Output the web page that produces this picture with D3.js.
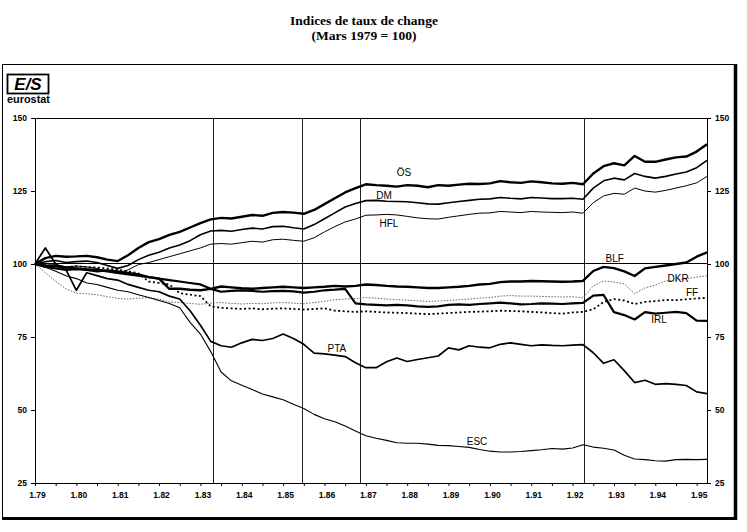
<!DOCTYPE html>
<html>
<head>
<meta charset="utf-8">
<script src="https://cdn.jsdelivr.net/npm/d3@7"></script>
<style>
  body { margin: 0; background: #fff; }
  svg { display: block; }
</style>
</head>
<body>
<svg class="chart" width="747" height="532"></svg>
<script>
// quarterly dates, March 1979 = 100
var dates = [
  1979, 1979.25, 1979.5, 1979.75, 1980, 1980.25, 1980.5, 1980.75,
  1981, 1981.25, 1981.5, 1981.75, 1982, 1982.25, 1982.5, 1982.75,
  1983, 1983.25, 1983.5, 1983.75, 1984, 1984.25, 1984.5, 1984.75,
  1985, 1985.25, 1985.5, 1985.75, 1986, 1986.25, 1986.5, 1986.75,
  1987, 1987.25, 1987.5, 1987.75, 1988, 1988.25, 1988.5, 1988.75,
  1989, 1989.25, 1989.5, 1989.75, 1990, 1990.25, 1990.5, 1990.75,
  1991, 1991.25, 1991.5, 1991.75, 1992, 1992.25, 1992.5, 1992.75,
  1993, 1993.25, 1993.5, 1993.75, 1994, 1994.25, 1994.5, 1994.75,
  1995, 1995.25
];

var valOS = [
  100, 102, 102.8, 102.5, 102.6, 102.8, 102.3, 101.5,
  101, 103, 105.5, 107.5, 108.5, 110, 111, 112.5,
  114, 115.3, 115.8, 115.6, 116.2, 116.8, 116.5, 117.5,
  117.8, 117.6, 117.2, 118.5, 120.5, 122.5, 124.5, 126,
  127.3, 127, 126.8, 126.5, 127, 126.8, 126.3, 127,
  126.8, 127.2, 127.5, 127.4, 127.6, 128.4, 128, 127.8,
  128.3, 128, 127.6, 127.5, 127.8, 127.3, 131, 133.5,
  134.5, 133.8, 137, 135, 135, 135.8, 136.5, 136.8,
  138.5, 141
];
var valDM = [
  100, 100.8, 101.2, 100.5, 100.8, 101, 100.5, 99.5,
  98.5, 99.5, 101.5, 103, 104, 105.5, 106.5, 108,
  110, 111.3, 111.5, 111.2, 111.8, 112.3, 112, 112.8,
  112.9, 112.4, 112, 113.5, 115.5, 117.5, 119.5, 120.7,
  121.7, 121.8, 121.5, 121.4, 121.3, 121, 120.6, 120.5,
  121, 121.4, 121.8, 122.2, 122.3, 122.8, 122.5, 122.3,
  122.8, 122.6, 122.4, 122.4, 122.5, 122.2, 126, 128.5,
  129.4, 128.8, 131, 130, 129.4, 130, 130.8, 131.5,
  133, 135.5
];
var valHFL = [
  100, 99.5, 99.8, 99, 99.3, 99, 98.5, 97.5,
  96.8, 98, 99.8, 100.5, 101.5, 102.5, 103.5, 104.5,
  105.5, 106.8, 107, 106.8, 107.3, 107.8, 107.5, 108.3,
  108.5, 108.1, 107.8, 109, 111, 112.8, 114.4, 115.4,
  116.7, 116.8, 117, 116.8, 116.3, 115.8, 115.5, 115.4,
  116, 116.5, 117, 117.4, 117.5, 118, 117.8, 117.6,
  118, 117.8, 117.7, 117.6, 117.8, 117.4, 121, 123.3,
  124.2, 123.9, 126, 125, 124.6, 125.2, 126, 126.8,
  127.8, 130
];
var valBLF = [
  100, 99.5, 99.3, 98.8, 98.5, 98.2, 98, 97.5,
  97, 96.5, 96, 95.5, 95, 91.5, 91.5, 91.2,
  91, 91.5, 92.3, 92, 91.7, 91.5, 91.8, 92,
  92.2, 92, 91.8, 92, 92.2, 92.5, 92.3, 92.5,
  93, 92.8, 92.5, 92.3, 92.2, 92, 91.8, 91.8,
  92, 92.2, 92.5, 93, 93.2, 93.8, 94, 94,
  94.2, 94.1, 94, 93.9, 94, 94.2, 97.6, 99,
  98.6, 97.5, 95.9, 98.5, 99, 99.5, 100, 100.5,
  102.5, 104
];
var valDKR = [
  100, 97, 94, 91.5, 90, 89.8, 89.5, 88.8,
  88.2, 88, 88.3, 88.4, 88, 87, 86.8, 86.5,
  86.2, 86.6, 86.8, 86.5, 86.3, 86.5, 86.4, 86.7,
  86.8, 86.6, 86.4, 86.8, 87.2, 87.8, 88, 88.2,
  88.5, 88.3, 88, 87.8, 87.6, 87.4, 87.2, 87.3,
  87.5, 87.8, 88, 88.3, 88.5, 89, 89.2, 89,
  89, 88.9, 88.8, 88.7, 88.8, 88.4, 92.5, 94.2,
  93.8, 93.2, 89.8, 91.8, 92.8, 94.2, 94.5, 95,
  95.5, 96
];
var valFF = [
  100, 99.5, 99.2, 99, 99.2, 99, 98.8, 98.5,
  98, 97.5, 96.8, 94, 93.5, 93, 90, 89.5,
  89, 85.5, 85, 84.8, 84.6, 84.8, 84.5, 84.7,
  84.8, 84.6, 84.4, 84.6, 84.8, 84, 83.8, 83.6,
  83.8, 83.6, 83.4, 83.3, 83.2, 83, 82.8, 83,
  83.2, 83.4, 83.6, 83.7, 83.8, 84, 83.9, 83.8,
  83.6, 83.4, 83.2, 83, 83.4, 83.6, 84.5, 87,
  88, 87.5, 86.3, 87, 87.3, 87.7, 87.6, 87.9,
  88.2, 88.4
];
var valIRL = [
  100, 99, 98.5, 98, 98.2, 98, 97.5, 97.8,
  97.5, 97, 96.5, 95.5, 95, 94.5, 94, 93.5,
  93, 91.5, 90.5, 90.8, 91, 90.8, 90.5, 90.7,
  90.8, 90.6, 90.2, 90.5, 91, 91.2, 91.5, 86.5,
  86.2, 86, 85.8, 86, 85.8, 85.5, 85.3, 85.5,
  86, 86.2, 86, 86.3, 86.5, 86.8, 86.5, 86.2,
  86.3, 86.5, 86.4, 86.3, 86.5, 86.7, 89.2, 89.4,
  83.5, 82.5, 81, 83.5, 83, 83.3, 83.6, 83.2,
  80.6, 80.5
];
var valPTA = [
  100, 105.5, 100, 98, 91, 97, 96, 95,
  94.5, 93, 92, 91, 90.5, 89, 88, 84,
  79, 73.5, 72, 71.5, 73, 74.2, 73.8, 74.5,
  76, 74.5, 72.5, 69.5, 69.2, 68.8, 68.3, 66.2,
  64.5, 64.5, 66.5, 67.8, 66.6, 67.3, 67.9, 68.5,
  71.3, 70.6, 72, 71.5, 71.3, 72.5, 73, 72.5,
  72, 72.3, 72.1, 72, 72.2, 72.4, 69.6, 66,
  67.2, 63.5, 59.4, 60.2, 58.8, 59, 58.8, 58.4,
  56.2, 55.6
];
var valESC = [
  100, 99, 97.5, 96, 95, 93.5, 93, 92,
  91, 90.5, 89.5, 88.5, 87.5, 86.5, 85, 80,
  76, 70, 63, 60, 58.5, 57, 55.5, 54.5,
  53.5, 52, 50.5, 48.5, 47, 46, 44.5, 42.8,
  41.2, 40.3, 39.6, 38.8, 38.6, 38.6, 38.3, 37.9,
  37.8, 37.5, 37.2, 36.5, 35.9, 35.6, 35.6, 35.8,
  36.1, 36.4, 36.8, 36.6, 37, 38.1, 37.3, 36.9,
  36.3, 34.5, 33.2, 33, 32.6, 32.5, 33, 33.1,
  33, 33.1
];

var currencies = ["ÖS", "DM", "HFL", "BLF", "DKR", "FF", "IRL", "PTA", "ESC"];
var seriesValues = [valOS, valDM, valHFL, valBLF, valDKR, valFF, valIRL, valPTA, valESC];

// realignment markers
var markerDates = [1983.3, 1985.46, 1986.86, 1992.28];
var yTicks = [25, 50, 75, 100, 125, 150];
var yearTicks = [1979, 1980, 1981, 1982, 1983, 1984, 1985, 1986, 1987,
  1988, 1989, 1990, 1991, 1992, 1993, 1994, 1995];

// label anchors in data coordinates [date, value]
var labelAt = {
  "ÖS": [1987.92, 130.1], "DM": [1987.44, 122.3], "HFL": [1987.56, 112.7],
  "BLF": [1993.02, 100.7], "DKR": [1994.55, 93.8], "FF": [1994.89, 89.0],
  "IRL": [1994.09, 79.8], "PTA": [1986.3, 69.9], "ESC": [1989.69, 38.0]
};

var lineStyle = {
  "ÖS": { w: 2.4, c: "#000", dash: null },
  "DM": { w: 1.6, c: "#000", dash: null },
  "HFL": { w: 1.0, c: "#000", dash: null },
  "BLF": { w: 2.4, c: "#000", dash: null },
  "DKR": { w: 1.0, c: "#666", dash: "1.5,1.5" },
  "FF": { w: 1.8, c: "#000", dash: "2,2.5" },
  "IRL": { w: 2.2, c: "#000", dash: null },
  "PTA": { w: 1.7, c: "#000", dash: null },
  "ESC": { w: 1.1, c: "#000", dash: null }
};

var svg = d3.select(".chart"),
  margin = { top: 118, right: 40, bottom: 49, left: 35 },
  width = +svg.attr("width") - margin.left - margin.right,
  height = +svg.attr("height") - margin.top - margin.bottom;

// title
svg.append("text")
  .attr("x", 364).attr("y", 25)
  .attr("text-anchor", "middle")
  .attr("font-family", "Liberation Serif, Times New Roman, serif")
  .attr("font-weight", "bold").attr("font-size", 13.5)
  .text("Indices de taux de change");
svg.append("text")
  .attr("x", 364).attr("y", 40)
  .attr("text-anchor", "middle")
  .attr("font-family", "Liberation Serif, Times New Roman, serif")
  .attr("font-weight", "bold").attr("font-size", 13.5)
  .text("(Mars 1979 = 100)");

// outer frame with heavy right/bottom edge
svg.append("rect")
  .attr("x", 2.5).attr("y", 64.5).attr("width", 733).attr("height", 454)
  .attr("fill", "none").attr("stroke", "#000").attr("stroke-width", 1);
svg.append("line")
  .attr("x1", 735.5).attr("x2", 735.5).attr("y1", 64).attr("y2", 520)
  .attr("stroke", "#000").attr("stroke-width", 3.5);
svg.append("line")
  .attr("x1", 2).attr("x2", 737).attr("y1", 518.5).attr("y2", 518.5)
  .attr("stroke", "#000").attr("stroke-width", 3);

// eurostat logo
var logo = svg.append("g").attr("transform", "translate(7,74)");
logo.append("rect")
  .attr("x", 0.5).attr("y", 0.5).attr("width", 41).attr("height", 19)
  .attr("fill", "#fff").attr("stroke", "#000").attr("stroke-width", 1.8);
logo.append("text")
  .attr("x", 21).attr("y", 16)
  .attr("text-anchor", "middle")
  .attr("font-family", "Liberation Sans, Arial, sans-serif")
  .attr("font-weight", "bold").attr("font-style", "italic")
  .attr("font-size", 17)
  .text("E/S");
logo.append("text")
  .attr("x", 0).attr("y", 29)
  .attr("font-family", "Liberation Sans, Arial, sans-serif")
  .attr("font-weight", "bold").attr("font-size", 10)
  .attr("textLength", 43).attr("lengthAdjust", "spacingAndGlyphs")
  .text("eurostat");

var g = svg.append("g")
  .attr("transform", "translate(" + margin.left + "," + margin.top + ")");

var x = d3.scaleLinear().domain([1979, 1995.25]).range([0, width]);
var y = d3.scaleLinear().domain([25, 150]).range([height, 0]);

// plot frame
g.append("rect")
  .attr("x", 0.5).attr("y", 0.5).attr("width", width).attr("height", height)
  .attr("fill", "none").attr("stroke", "#000").attr("stroke-width", 1);

// 100 reference line
g.append("line")
  .attr("x1", 0).attr("x2", width)
  .attr("y1", Math.round(y(100)) - 0.5).attr("y2", Math.round(y(100)) - 0.5)
  .attr("stroke", "#000").attr("stroke-width", 1);

// vertical markers
g.selectAll(".marker")
  .data(markerDates)
  .enter().append("line")
  .attr("class", "marker")
  .attr("x1", function (d) { return Math.round(x(d)) + 0.5; })
  .attr("x2", function (d) { return Math.round(x(d)) + 0.5; })
  .attr("y1", 0).attr("y2", height)
  .attr("stroke", "#222").attr("stroke-width", 1);

// axes
var fmtYear = function (d) { return "1." + String(d).slice(2); };

var xAxis = g.append("g")
  .attr("transform", "translate(0," + height + ")")
  .call(d3.axisBottom(x).tickValues(d3.range(1979, 1995.5, 0.5))
    .tickSize(3).tickFormat(""));
xAxis.select(".domain").remove();

var xLabels = g.append("g")
  .attr("transform", "translate(0," + height + ")")
  .call(d3.axisBottom(x).tickValues(yearTicks).tickSize(0).tickPadding(9)
    .tickFormat(fmtYear));
xLabels.select(".domain").remove();
xLabels.selectAll("text").attr("dx", 2);

var yLeft = g.append("g")
  .call(d3.axisLeft(y).tickValues(yTicks).tickSize(4).tickPadding(4));
yLeft.select(".domain").remove();

var yRight = g.append("g")
  .attr("transform", "translate(" + width + ",0)")
  .call(d3.axisRight(y).tickValues(yTicks).tickSize(4).tickPadding(4));
yRight.select(".domain").remove();

g.selectAll(".tick text")
  .attr("font-family", "Liberation Sans, Arial, sans-serif")
  .attr("font-weight", "bold")
  .attr("font-size", 8.5)
  .attr("fill", "#000");
g.selectAll(".tick line").attr("stroke", "#000");

// series lines
var line = d3.line()
  .x(function (d, i) { return x(dates[i]); })
  .y(function (d) { return y(d); });

g.append("g")
  .selectAll("path")
  .data(currencies)
  .enter().append("path")
  .attr("fill", "none")
  .attr("stroke", function (d) { return lineStyle[d].c; })
  .attr("stroke-width", function (d) { return lineStyle[d].w; })
  .attr("stroke-dasharray", function (d) { return lineStyle[d].dash; })
  .attr("stroke-linejoin", "round")
  .attr("d", function (d, i) { return line(seriesValues[i]); });

// series labels
g.append("g")
  .selectAll("text")
  .data(currencies)
  .enter().append("text")
  .attr("x", function (d) { return x(labelAt[d][0]); })
  .attr("y", function (d) { return y(labelAt[d][1]); })
  .attr("text-anchor", "middle")
  .attr("font-family", "Liberation Sans, Arial, sans-serif")
  .attr("font-size", 10)
  .text(function (d) { return d; });
</script>
</body>
</html>
